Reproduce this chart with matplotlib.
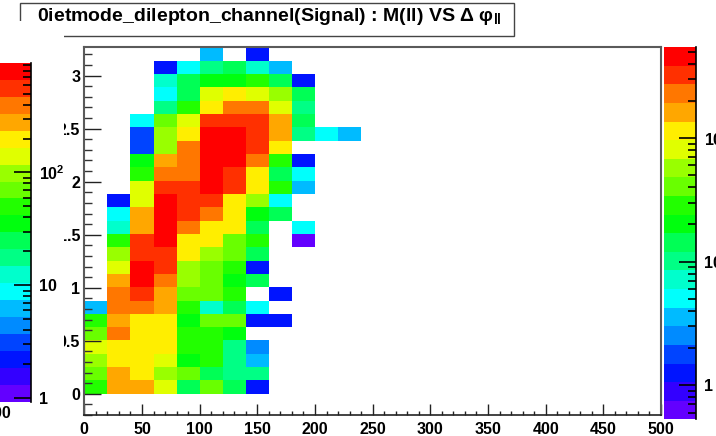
import colorsys

import numpy as np
import matplotlib
matplotlib.use("Agg")
import matplotlib.pyplot as plt
from matplotlib.colors import ListedColormap, LogNorm
from matplotlib.patches import Rectangle
from matplotlib.lines import Line2D
from matplotlib.ticker import (MultipleLocator, FixedLocator, FixedFormatter,
                               NullFormatter, FuncFormatter)
import matplotlib.cm as cm

plt.rcParams['font.family'] = ['Liberation Sans', 'DejaVu Sans']
plt.rcParams['mathtext.fontset'] = 'custom'
plt.rcParams['mathtext.rm'] = 'Liberation Sans'
plt.rcParams['mathtext.bf'] = 'Liberation Sans:bold'
plt.rcParams['mathtext.it'] = 'Liberation Sans:italic'

# ---------------------------------------------------------------- data
title = "0ietmode_dilepton_channel(Signal) : M(ll) VS \u0394 \u03c6" + r"$_{\mathbf{ll}}$"

mass_edges = np.arange(0, 501, 20)            # M(ll), 25 bins
dphi_edges = np.arange(27) * np.pi / 25        # delta phi(ll), 26 bins

# bin contents, one row per delta-phi bin (from 0 upward),
# columns are the first 12 mass bins (0-240); higher mass bins are empty
counts = [
    [28.5, 161, 161, 80.5, 14.2, 40.3, 14.2, 1.26, 0, 0, 0, 0],
    [40.3, 161, 114, 56.9, 40.3, 14.2, 10.1, 10.1, 0, 0, 0, 0],
    [56.9, 114, 114, 80.5, 20.1, 28.5, 10.1, 3.56, 0, 0, 0, 0],
    [80.5, 114, 114, 114, 28.5, 28.5, 10.1, 2.52, 0, 0, 0, 0],
    [40.3, 227, 114, 114, 28.5, 28.5, 20.1, 0, 0, 0, 0, 0],
    [28.5, 161, 114, 114, 20.1, 40.3, 40.3, 1.26, 1.26, 0, 0, 0],
    [3.56, 227, 227, 161, 28.5, 7.13, 14.2, 5.04, 0, 0, 0, 0],
    [0, 227, 322, 161, 40.3, 40.3, 28.5, 0, 1.26, 0, 0, 0],
    [0, 161, 455, 227, 56.9, 40.3, 20.1, 14.2, 0, 0, 0, 0],
    [0, 80.5, 455, 322, 56.9, 40.3, 28.5, 1.26, 0, 0, 0, 0],
    [0, 56.9, 322, 322, 114, 56.9, 40.3, 14.2, 0, 0, 0, 0],
    [0, 28.5, 322, 455, 114, 114, 40.3, 28.5, 0, 0.63, 0, 0],
    [0, 7.13, 161, 455, 227, 114, 114, 14.2, 0, 5.04, 0, 0],
    [0, 5.04, 161, 455, 322, 227, 114, 20.1, 14.2, 0, 0, 0],
    [0, 1.26, 80.5, 455, 322, 322, 114, 56.9, 5.04, 0, 0, 0],
    [0, 0, 80.5, 322, 322, 455, 322, 114, 28.5, 3.56, 0, 0],
    [0, 0, 28.5, 227, 227, 455, 322, 114, 14.2, 5.04, 0, 0],
    [0, 0, 20.1, 161, 227, 455, 455, 227, 28.5, 1.26, 0, 0],
    [0, 0, 1.78, 56.9, 227, 455, 455, 322, 114, 0, 0, 0],
    [0, 0, 1.78, 56.9, 114, 455, 455, 322, 161, 10.1, 5.04, 3.56],
    [0, 0, 5.04, 40.3, 80.5, 322, 322, 322, 161, 14.2, 0, 0],
    [0, 0, 0, 10.1, 28.5, 114, 227, 227, 80.5, 10.1, 0, 0],
    [0, 0, 0, 5.04, 14.2, 80.5, 114, 80.5, 56.9, 14.2, 0, 0],
    [0, 0, 0, 7.13, 14.2, 20.1, 20.1, 28.5, 14.2, 1.26, 0, 0],
    [0, 0, 0, 1.26, 5.04, 10.1, 14.2, 7.13, 3.56, 0, 0, 0],
    [0, 0, 0, 0, 0, 3.56, 0, 1.26, 0, 0, 0, 0],
]

z_range = (0.531, 541.0)          # colour axis of this histogram
left_pad_z_range = (0.933, 933.0)  # colour axis of the neighbouring pad

x_ticks = np.arange(0, 501, 50)
y_ticks = np.arange(0, 3.01, 0.5)

# ---------------------------------------------------------------- palette
# ROOT "pretty" palette (50 HLS colours) sampled at 20 contour levels
n_levels = 20
pretty = []
for i in range(50):
    hue = 280.0 - (i + 1) * (280.0 / 50)
    pretty.append(colorsys.hls_to_rgb(hue / 360.0, 0.5, 1.0))
level_colors = [pretty[int((j + 0.99) * 50 / n_levels)] for j in range(n_levels)]
cmap = ListedColormap(level_colors)

# ---------------------------------------------------------------- figure
W, H = 716, 436
fig = plt.figure(figsize=(W / 100, H / 100), dpi=100)


def fig_rect(x0, y0, x1, y1):
    """pixel box (top-left origin) -> figure fraction rect"""
    return [x0 / W, 1 - y1 / H, (x1 - x0) / W, (y1 - y0) / H]


ax = fig.add_axes(fig_rect(84.3, 47.3, 661, 415))
ax.set_zorder(0)

grid = np.zeros((len(dphi_edges) - 1, len(mass_edges) - 1))
grid[:, :len(counts[0])] = np.array(counts)
grid = np.ma.masked_less_equal(grid, 0)

norm = LogNorm(vmin=z_range[0], vmax=z_range[1])
mesh = ax.pcolormesh(mass_edges, dphi_edges, grid, cmap=cmap, norm=norm,
                     edgecolors='none', antialiased=False)

ax.set_xlim(0, 500)
ax.set_ylim(-0.2, dphi_edges[-1])

ax.xaxis.set_major_locator(FixedLocator(x_ticks))
ax.xaxis.set_minor_locator(MultipleLocator(10))
ax.yaxis.set_major_locator(FixedLocator(y_ticks))
ax.yaxis.set_minor_locator(MultipleLocator(0.1))
ax.yaxis.set_major_formatter(FuncFormatter(lambda v, p: '%g' % v))
ax.xaxis.set_major_formatter(FuncFormatter(lambda v, p: '%g' % v))

ax.tick_params(axis='x', which='major', direction='in', length=8, width=1,
               color='#222222', pad=5, labelsize=11.5)
ax.tick_params(axis='x', which='minor', direction='in', length=3, width=1,
               color='#222222')
ax.tick_params(axis='y', which='major', direction='in', length=12.5, width=1,
               color='#222222', pad=3, labelsize=11.5)
ax.tick_params(axis='y', which='minor', direction='in', length=5.5, width=1,
               color='#333333')
for lab in ax.get_xticklabels() + ax.get_yticklabels():
    lab.set_fontweight('bold')

for side in ('top', 'right', 'left'):
    ax.spines[side].set_color('#5a5a5a')
    ax.spines[side].set_linewidth(1.5)
ax.spines['bottom'].set_color('#222222')
ax.spines['bottom'].set_linewidth(1.2)


def palette_axis(rect, sm_norm, minor_vals, labels_at):
    cax = fig.add_axes(rect)
    sm = cm.ScalarMappable(norm=sm_norm, cmap=cmap)
    cb = fig.colorbar(sm, cax=cax)
    cb.outline.set_visible(False)
    cax.add_line(Line2D([1, 1], [0, 1], transform=cax.transAxes,
                        color='black', lw=1.2, clip_on=False))
    cax.yaxis.set_ticks_position('right')
    cax.yaxis.set_major_locator(FixedLocator(labels_at))
    cax.yaxis.set_major_formatter(FixedFormatter(
        ['1', '10', r'$\mathbf{10^{2}}$'][:len(labels_at)]))
    cax.yaxis.set_minor_locator(FixedLocator(minor_vals))
    cax.yaxis.set_minor_formatter(NullFormatter())
    cax.tick_params(axis='y', which='major', direction='in', length=12.5,
                    width=1.2, color='black', pad=6, labelsize=11.5)
    cax.tick_params(axis='y', which='minor', direction='in', length=5.5,
                    width=1.2, color='black')
    for lab in cax.get_yticklabels():
        lab.set_fontweight('bold')
    return cax


def log_minors(lo, hi):
    vals = []
    for dec in (0.1, 1, 10, 100):
        for m in range(2, 10):
            v = m * dec
            if lo < v < hi:
                vals.append(v)
    return vals


palette_axis(fig_rect(664, 47.3, 696, 419.3), norm,
             log_minors(*z_range), [1, 10, 100])

# neighbouring pad: white background, its palette and a clipped axis label
cover = Rectangle((0, 0), 63.5 / W, 1 - 21 / H, transform=fig.transFigure,
                  facecolor='white', edgecolor='none', zorder=2)
fig.patches.append(cover)

left_norm = LogNorm(vmin=left_pad_z_range[0], vmax=left_pad_z_range[1])
lcax = palette_axis(fig_rect(0, 63, 31, 401.7), left_norm,
                    log_minors(*left_pad_z_range), [1, 10, 100])
lcax.set_zorder(3)
fig.text(11 / W, 1 - 413 / H, '500', ha='right', va='center',
         fontsize=11.5, fontweight='bold', zorder=4)

# title pave
box = Rectangle((19.5 / W, 1 - 35.7 / H), (514 - 19.5) / W, (35.7 - 3.3) / H,
                transform=fig.transFigure, facecolor='white',
                edgecolor='#444444', lw=1.0, zorder=1)
fig.patches.append(box)
fig.text(37 / W, 1 - 21 / H, title, ha='left', va='baseline',
         fontsize=14, fontweight='bold', zorder=4)

fig.savefig('out.png', dpi=100)
